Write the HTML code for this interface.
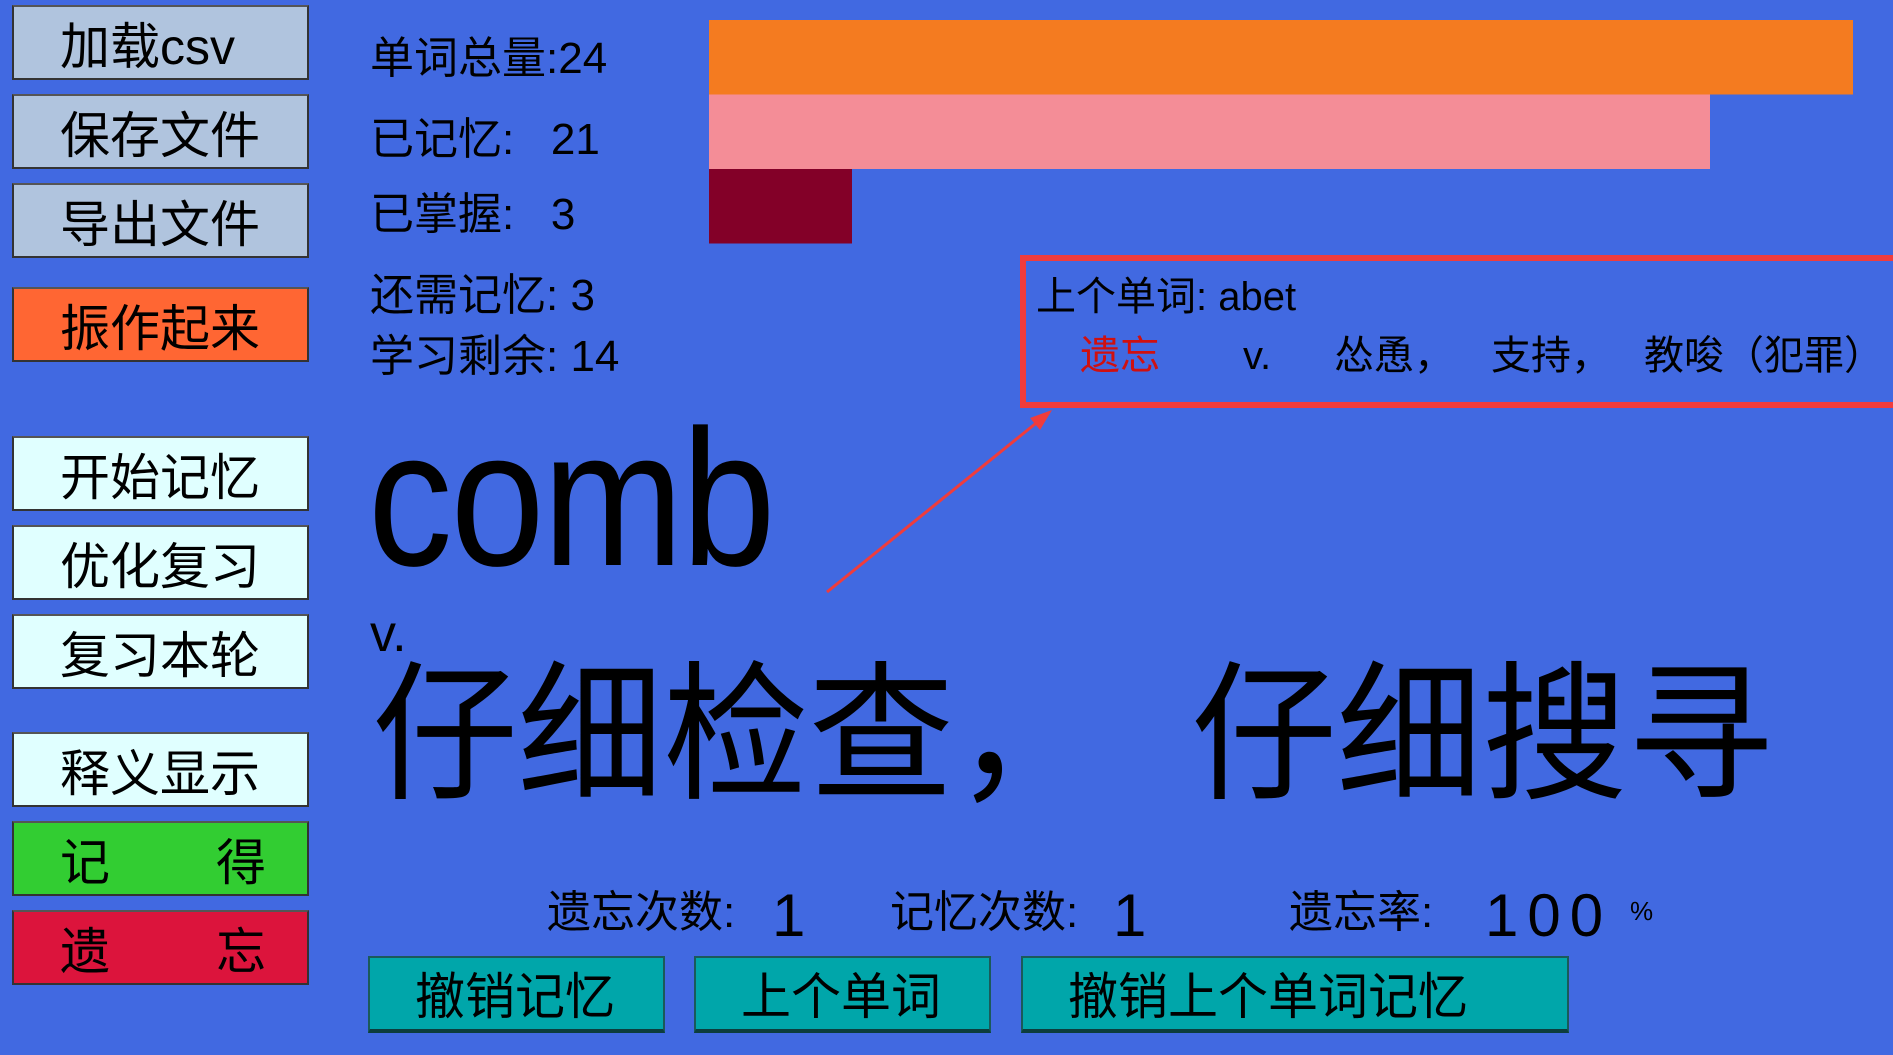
<!DOCTYPE html>
<html><head><meta charset="utf-8">
<style>
html,body{margin:0;padding:0;}
body{width:1893px;height:1055px;background:#4169E1;position:relative;overflow:hidden;
font-family:"Liberation Sans","Noto Sans CJK SC",sans-serif;color:#000;}
.btn{position:absolute;left:12px;width:293px;height:71px;border:2px solid #333;border-top-color:#555;
box-sizing:content-box;font-size:50px;line-height:71px;}
.btn span{position:absolute;left:46px;top:5px;}
.t{position:absolute;white-space:pre;line-height:1;}
.bb{position:absolute;top:956px;height:71px;background:#00A6AA;border:2px solid #1a5a5a;border-bottom:4px solid #0d3d3d;font-size:50px;line-height:71px;}
.bb span{position:absolute;left:45px;top:4px;}
</style></head>
<body>

<div class="btn" style="top:5px;background:#B0C4DE"><span>加载csv</span></div>
<div class="btn" style="top:94px;background:#B0C4DE"><span>保存文件</span></div>
<div class="btn" style="top:183px;background:#B0C4DE"><span>导出文件</span></div>
<div class="btn" style="top:287px;background:#FF6633"><span>振作起来</span></div>
<div class="btn" style="top:436px;background:#E0FFFF"><span>开始记忆</span></div>
<div class="btn" style="top:525px;background:#E0FFFF"><span>优化复习</span></div>
<div class="btn" style="top:614px;background:#E0FFFF"><span>复习本轮</span></div>
<div class="btn" style="top:732px;background:#E0FFFF"><span>释义显示</span></div>
<div class="btn" style="top:821px;background:#32CD32"><span>记</span><span style="left:202px">得</span></div>
<div class="btn" style="top:910px;background:#DC143C"><span>遗</span><span style="left:202px">忘</span></div>

<div class="t" style="left:370px;top:37px;font-size:44px">单词总量:24</div>
<div class="t" style="left:370px;top:118px;font-size:44px">已记忆:   21</div>
<div class="t" style="left:370px;top:193px;font-size:44px">已掌握:   3</div>
<div class="t" style="left:370px;top:274px;font-size:44px">还需记忆: 3</div>
<div class="t" style="left:370px;top:335px;font-size:44px">学习剩余: 14</div>

<svg id="bars" style="position:absolute;left:0;top:0" width="1893" height="1055"></svg>

<div style="position:absolute;left:1020px;top:255px;width:880px;height:141px;border:6px solid #F03C3C;box-sizing:content-box"></div>
<div class="t" style="left:1036px;top:277px;font-size:40px">上个单词: abet</div>
<div class="t" style="left:1080px;top:336px;font-size:40px;color:#D01010">遗忘</div>
<div class="t" style="left:1243px;top:336px;font-size:40px">v.</div>
<div class="t" style="left:1334px;top:336px;font-size:40px">怂恿，</div>
<div class="t" style="left:1491px;top:336px;font-size:40px">支持，</div>
<div class="t" style="left:1644px;top:336px;font-size:40px">教唆（犯罪）</div>

<svg style="position:absolute;left:0;top:0" width="1893" height="1055">
<line x1="827" y1="592" x2="1040" y2="420" stroke="#F03C3C" stroke-width="3"/>
<polygon points="1052,410 1030,418 1040,430" fill="#F03C3C"/>
</svg>

<div class="t" style="left:368px;top:402px;font-size:194px;transform:scaleX(0.87);transform-origin:0 0;letter-spacing:-2px">comb</div>
<div class="t" style="left:370px;top:608px;font-size:52px">v.</div>
<div class="t" style="left:372px;top:660px;font-size:150px;transform:scaleX(0.97);transform-origin:0 0">仔细检查，</div>
<div class="t" style="left:1191px;top:660px;font-size:150px;transform:scaleX(0.97);transform-origin:0 0">仔细搜寻</div>

<div class="t" style="left:547px;top:891px;font-size:44px">遗忘次数:</div>
<div class="t" style="left:772px;top:886px;font-size:60px">1</div>
<div class="t" style="left:890px;top:891px;font-size:44px">记忆次数:</div>
<div class="t" style="left:1113px;top:886px;font-size:60px">1</div>
<div class="t" style="left:1289px;top:891px;font-size:44px">遗忘率:</div>
<div class="t" style="left:1485px;top:886px;font-size:60px;letter-spacing:9px">100</div>
<div class="t" style="left:1630px;top:898px;font-size:26px">%</div>

<div class="bb" style="left:368px;width:293px"><span>撤销记忆</span></div>
<div class="bb" style="left:694px;width:293px"><span>上个单词</span></div>
<div class="bb" style="left:1021px;width:544px"><span>撤销上个单词记忆</span></div>

<script>
const categories = ["total", "memorized", "mastered"];
const values = [24, 21, 3];
const maxValue = 24;
const colors = ["#F47B20", "#F48D97", "#830028"];
const svg = document.getElementById('bars');
const x0 = 709, x1 = 1853, yTop = 20, rowH = 74.5;
function xScale(v){ return x0 + (x1 - x0) * v / maxValue; }
function yScale(i){ return yTop + i * rowH; }
categories.forEach((c, i) => {
  const r = document.createElementNS('http://www.w3.org/2000/svg', 'rect');
  r.setAttribute('x', x0);
  r.setAttribute('y', yScale(i));
  r.setAttribute('width', xScale(values[i]) - x0);
  r.setAttribute('height', rowH);
  r.setAttribute('fill', colors[i]);
  
  
  svg.appendChild(r);
});
</script>
</body></html>
